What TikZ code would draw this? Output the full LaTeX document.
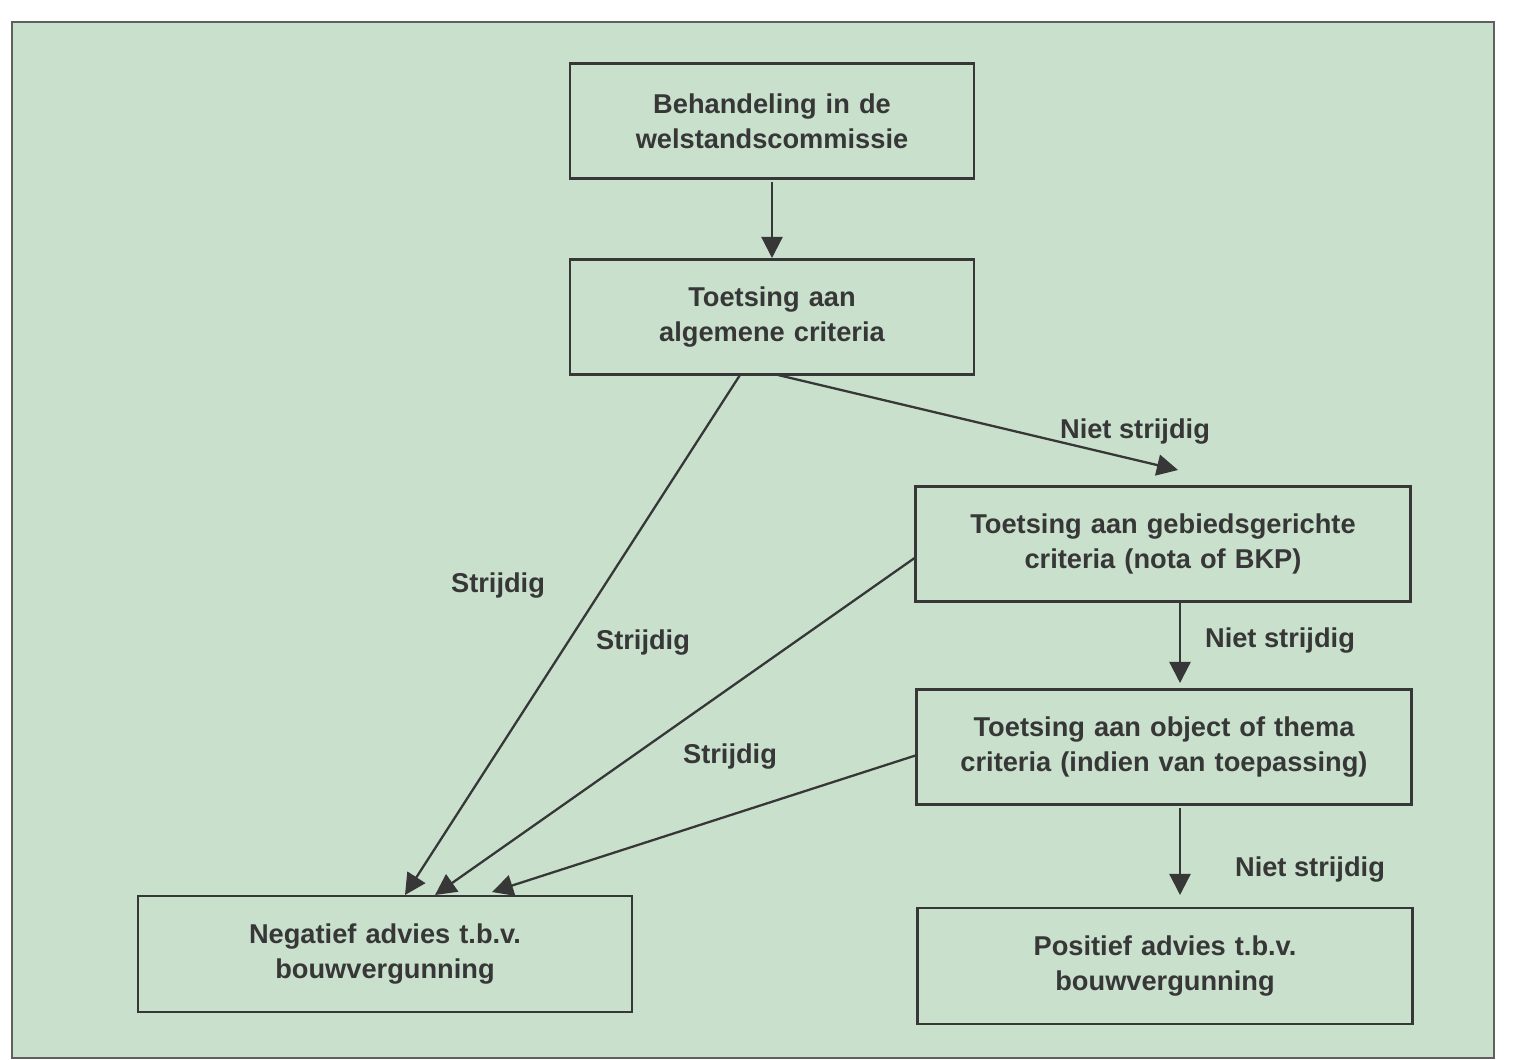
\documentclass[tikz,border=0pt]{standalone}
\usepackage{fontspec}
\setmainfont{Liberation Sans}
\usetikzlibrary{arrows.meta}
\definecolor{bg}{RGB}{201,224,205}
\definecolor{ink}{RGB}{55,55,55}
\begin{document}
\begin{tikzpicture}[x=0.02cm,y=-0.02cm,
  box/.style={draw=ink,line width=1.3pt,fill=bg,text=ink,font=\fontsize{15.5}{20}\selectfont\bfseries,align=center,inner sep=0pt},
  arr/.style={draw=ink,line width=1.3pt,-{Triangle[length=12pt,width=12pt]}},
  lbl/.style={text=ink,font=\fontsize{15.5}{20}\selectfont\bfseries}]
\useasboundingbox (0,0) rectangle (1514,1060);
\fill[white] (0,0) rectangle (1514,1060);
\draw[fill=bg,draw=ink!80,line width=1.2pt] (12,22) rectangle (1494,1058);
\node[box,minimum width=404\pgflinewidth,text width=380*0.02cm,minimum width=404*0.02cm,minimum height=115*0.02cm] (A) at (772,121) {Behandeling in de\\welstandscommissie};
\node[box,text width=380*0.02cm,minimum width=404*0.02cm,minimum height=115*0.02cm] (B) at (772,317) {Toetsing aan\\algemene criteria};
\node[box,text width=470*0.02cm,minimum width=495*0.02cm,minimum height=115*0.02cm] (C) at (1163,544) {Toetsing aan gebiedsgerichte\\criteria (nota of BKP)};
\node[box,text width=470*0.02cm,minimum width=495*0.02cm,minimum height=115*0.02cm] (D) at (1164,747) {Toetsing aan object of thema\\criteria (indien van toepassing)};
\node[box,text width=470*0.02cm,minimum width=494*0.02cm,minimum height=116*0.02cm] (E) at (385,954) {Negatief advies t.b.v.\\bouwvergunning\\[12pt]};
\node[box,text width=470*0.02cm,minimum width=495*0.02cm,minimum height=116*0.02cm] (F) at (1165,966) {Positief advies t.b.v.\\bouwvergunning};
\coordinate (a1) at (772,182); \coordinate (b0) at (772,258);
\coordinate (b1) at (778,375); \coordinate (c0) at (1178,470);
\coordinate (c1) at (1180,600); \coordinate (d0) at (1180,683);
\coordinate (d1) at (1180,808); \coordinate (f0) at (1180,895);
\coordinate (b2) at (740,375); \coordinate (e1) at (405,895);
\coordinate (c2) at (916,557); \coordinate (e2) at (435,895);
\coordinate (d2) at (917,755); \coordinate (e3) at (492,892);
\draw[arr] (a1) -- (b0);
\draw[arr] (b1) -- (c0);
\draw[arr] (c1) -- (d0);
\draw[arr] (d1) -- (f0);
\draw[arr] (b2) -- (e1);
\draw[arr] (c2) -- (e2);
\draw[arr] (d2) -- (e3);
\node[lbl] (l1) at (1135,432) {Niet strijdig};
\node[lbl] (l2) at (1280,641) {Niet strijdig};
\node[lbl] (l3) at (1310,870) {Niet strijdig};
\node[lbl] (l4) at (498,586) {Strijdig};
\node[lbl] (l5) at (643,643) {Strijdig};
\node[lbl] (l6) at (730,757) {Strijdig};
\end{tikzpicture}
\end{document}
